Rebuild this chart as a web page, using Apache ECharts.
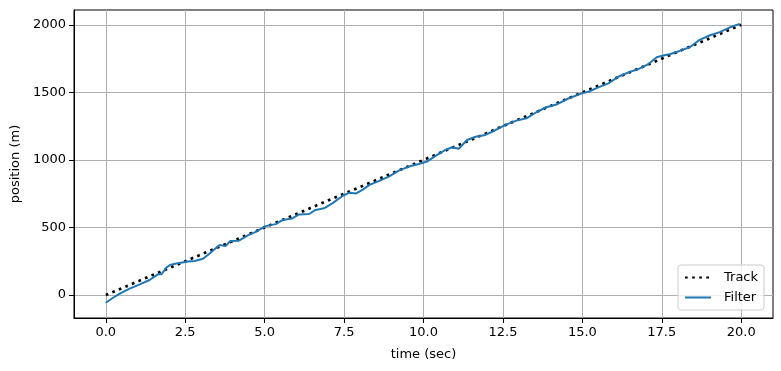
<!DOCTYPE html>
<html>
<head>
<meta charset="utf-8">
<script src="https://cdn.jsdelivr.net/npm/echarts@6/dist/echarts.min.js"></script>
<style>
  html, body { margin: 0; padding: 0; background: #fff; }
  #chart { width: 781px; height: 371px; }
</style>
</head>
<body>
<div id="chart"></div>
<script>
// true track: constant 10 m/s
const trackTime = [0, 2, 4, 6, 8, 10, 12, 14, 16, 18, 20];
const trackPos = [0, 200, 400, 600, 800, 1000, 1200, 1400, 1600, 1800, 2000];

// filter output
const filterTime = [0, 0.23, 0.44, 0.75, 1.07, 1.38, 1.64, 1.75, 1.91, 2.02, 2.22, 2.59, 2.8, 3.06, 3.27,
  3.58, 3.77, 3.92, 4.19, 4.5, 4.72, 5.03, 5.35, 5.56, 5.87, 6.08, 6.4, 6.6, 6.87, 7.14, 7.46, 7.67,
  7.88, 8.09, 8.3, 8.59, 8.91, 9.22, 9.54, 9.85, 10.11, 10.38, 10.69, 10.9, 11.11, 11.37, 11.64, 11.95,
  12.26, 12.58, 12.92, 13.24, 13.55, 13.86, 14.18, 14.56, 14.98, 15.19, 15.5, 15.82, 16.13,
  16.45, 16.76, 17.08, 17.34, 17.61, 17.75, 18.06, 18.38, 18.69, 19.0, 19.32, 19.63, 19.95];
const filterPos = [-57, -20, 10, 47, 79, 111, 153, 153, 203, 222, 233, 248, 252, 268, 308,
  370, 362, 400, 402, 445, 467, 510, 525, 555, 567, 597, 600, 630, 642, 680, 735, 758,
  752, 780, 815, 843, 877, 921, 951, 970, 988, 1030, 1074, 1094, 1083, 1148, 1172, 1185,
  1220, 1260, 1291, 1308, 1353, 1390, 1410, 1455, 1493, 1505, 1537, 1567, 1616,
  1648, 1673, 1710, 1760, 1777, 1782, 1807, 1834, 1889, 1921, 1946, 1980, 2007];

const xTicks = [0, 2.5, 5, 7.5, 10, 12.5, 15, 17.5, 20];
const yTicks = [0, 500, 1000, 1500, 2000];

const font = 'DejaVu Sans';
const chart = echarts.init(document.getElementById('chart'));

function zip(a, b) {
  return a.map((v, i) => [v, b[i]]);
}

chart.setOption({
  animation: false,
  textStyle: { fontFamily: font },
  grid: {
    left: 74, right: 8, top: 10, bottom: 53,
    show: true, borderColor: '#000', borderWidth: 1, backgroundColor: 'transparent'
  },
  legend: {
    orient: 'vertical',
    left: 678, top: 265,
    padding: [6, 6, 6, 6],
    itemWidth: 26, itemHeight: 13, itemGap: 7,
    itemStyle: { opacity: 0 },
    backgroundColor: 'rgba(255,255,255,0.8)',
    borderColor: '#cccccc', borderWidth: 1, borderRadius: 3,
    textStyle: { fontFamily: font, fontSize: 13, color: '#000', padding: [0, 0, 0, 8] },
    data: [{ name: 'Track' }, { name: 'Filter' }]
  },
  xAxis: {
    type: 'value', min: -1, max: 21,
    name: 'time (sec)', nameLocation: 'middle', nameGap: 30,
    nameTextStyle: { fontFamily: font, fontSize: 13, color: '#000' },
    axisLine: { show: true, onZero: false, lineStyle: { color: '#000', width: 1 } },
    axisTick: { show: true, length: 5, lineStyle: { color: '#000' }, customValues: xTicks },
    axisLabel: { fontFamily: font, fontSize: 13, color: '#000', margin: 8, customValues: xTicks,
      formatter: v => v.toFixed(1) },
    splitLine: { show: true, lineStyle: { color: '#b0b0b0', width: 1 } }
  },
  yAxis: {
    type: 'value', min: -170, max: 2110,
    name: 'position (m)', nameLocation: 'middle', nameGap: 52, nameRotate: 90,
    nameTextStyle: { fontFamily: font, fontSize: 13, color: '#000' },
    axisLine: { show: true, onZero: false, lineStyle: { color: '#000', width: 1 } },
    axisTick: { show: true, length: 5, lineStyle: { color: '#000' }, customValues: yTicks },
    axisLabel: { fontFamily: font, fontSize: 13, color: '#000', margin: 8, customValues: yTicks,
      formatter: v => String(v) },
    splitLine: { show: true, lineStyle: { color: '#b0b0b0', width: 1 } }
  },
  series: [
    {
      name: 'Track', type: 'line', data: zip(trackTime, trackPos),
      showSymbol: false, symbol: 'none',
      lineStyle: { color: '#000', width: 2.7, type: [2.7, 4.4], cap: 'butt' },
      itemStyle: { color: '#000' }
    },
    {
      name: 'Filter', type: 'line', data: zip(filterTime, filterPos),
      showSymbol: false, symbol: 'none',
      lineStyle: { color: '#1f77b4', width: 2 },
      itemStyle: { color: '#1f77b4' }
    }
  ]
});
</script>
</body>
</html>
